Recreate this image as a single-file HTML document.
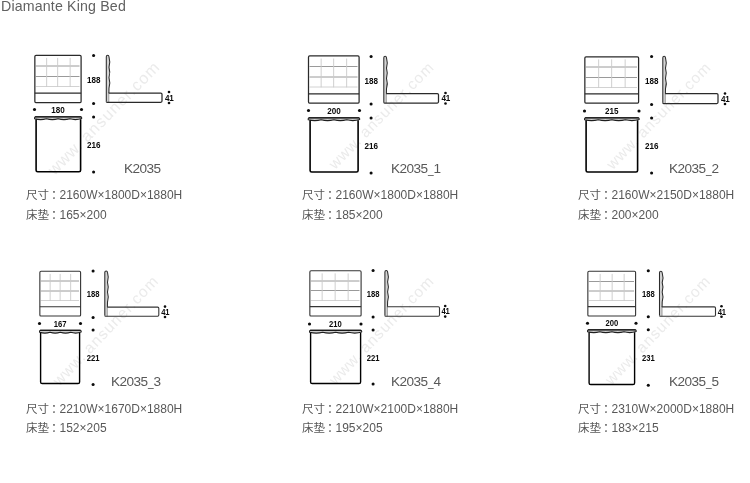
<!DOCTYPE html>
<html lang="zh-CN">
<head>
<meta charset="utf-8">
<title>Diamante King Bed</title>
<style>
html,body{margin:0;padding:0;background:#fff;}
body{width:750px;height:483px;position:relative;overflow:hidden;font-family:"Liberation Sans", "Noto Sans CJK SC", sans-serif;color:#666;}
.t{position:absolute;white-space:nowrap;line-height:1;margin:0;will-change:transform;}
.title{left:0.6px;top:-1.0px;font-size:14.2px;letter-spacing:0.16px;color:#626262;}
.lab{font-size:13.6px;letter-spacing:-0.55px;color:#585858;}
.lab .u{display:inline-block;width:5.6px;transform:scaleX(0.74);transform-origin:0 50%;letter-spacing:0;margin-left:0.3px;}
.spec{font-size:12px;color:#585858;}
.spec .cj{font-size:11.5px;letter-spacing:0.1px;}
.spec .c{display:inline-block;width:8.5px;padding-left:1.8px;}
svg{position:absolute;left:0;top:0;will-change:transform;}
svg text{font-family:"Liberation Sans", "Noto Sans CJK SC", sans-serif;}
svg .n{font-weight:bold;fill:#0a0a0a;}
svg .wm{font-weight:normal;fill:#ebebeb;}
</style>
</head>
<body>

<svg width="750" height="483" viewBox="0 0 750 483">
<text transform="translate(54.50 176.12) rotate(-45.44) scale(1.0157)" x="0" y="0" font-size="16" class="wm" letter-spacing="0.7">www.<tspan dx="4.9" letter-spacing="1.1">ansuner.com</tspan></text>
<text transform="translate(335.02 169.89) rotate(-45.51) scale(0.9546)" x="0" y="0" font-size="16" class="wm" letter-spacing="0.7">www.<tspan dx="4.9" letter-spacing="1.1">ansuner.com</tspan></text>
<text transform="translate(612.81 170.17) rotate(-45.84) scale(0.9524)" x="0" y="0" font-size="16" class="wm" letter-spacing="0.7">www.<tspan dx="4.9" letter-spacing="1.1">ansuner.com</tspan></text>
<text transform="translate(59.15 386.80) rotate(-46.28) scale(0.9726)" x="0" y="0" font-size="16" class="wm" letter-spacing="0.7">www.<tspan dx="4.9" letter-spacing="1.1">ansuner.com</tspan></text>
<text transform="translate(335.45 385.84) rotate(-46.29) scale(0.9634)" x="0" y="0" font-size="16" class="wm" letter-spacing="0.7">www.<tspan dx="4.9" letter-spacing="1.1">ansuner.com</tspan></text>
<text transform="translate(611.59 385.86) rotate(-46.15) scale(0.9656)" x="0" y="0" font-size="16" class="wm" letter-spacing="0.7">www.<tspan dx="4.9" letter-spacing="1.1">ansuner.com</tspan></text>
<g><line x1="35.85" y1="66" x2="79.50" y2="66" stroke="#8e8e8e" stroke-width="0.9"/>
<line x1="35.85" y1="76.5" x2="79.50" y2="76.5" stroke="#8e8e8e" stroke-width="0.9"/>
<line x1="35.85" y1="86.5" x2="79.50" y2="86.5" stroke="#cdcdcd" stroke-width="0.9"/>
<line x1="46.65" y1="57.90" x2="46.65" y2="86.8" stroke="#cacaca" stroke-width="0.9"/>
<line x1="57.65" y1="57.90" x2="57.65" y2="86.8" stroke="#cacaca" stroke-width="0.9"/>
<line x1="70.15" y1="57.90" x2="70.15" y2="86.8" stroke="#cacaca" stroke-width="0.9"/>
<path d="M34.85 101.50 L34.85 56.50 Q34.85 55.30 36.05 55.30 L79.90 55.30 Q81.10 55.30 81.10 56.50 L81.10 101.50 Q81.10 102.50 80.10 102.50 L35.85 102.50 Q34.85 102.50 34.85 101.50 Z" fill="none" stroke="#2a2a2a" stroke-width="1.25"/>
<line x1="34.85" y1="93.10" x2="81.10" y2="93.10" stroke="#2a2a2a" stroke-width="1.25"/>
<circle cx="93.60" cy="55.5" r="1.55" fill="#0c0c0c"/>
<circle cx="93.60" cy="103.5" r="1.55" fill="#0c0c0c"/>
<circle cx="93.60" cy="117" r="1.55" fill="#0c0c0c"/>
<circle cx="93.60" cy="172" r="1.55" fill="#0c0c0c"/>
<circle cx="34.5" cy="109.5" r="1.55" fill="#0c0c0c"/>
<circle cx="81.5" cy="109.5" r="1.55" fill="#0c0c0c"/>
<circle cx="169" cy="92" r="1.3" fill="#0c0c0c"/>
<circle cx="169" cy="103" r="1.3" fill="#0c0c0c"/>
<text transform="translate(93.70 82.72) scale(0.9 1)" x="0" y="0" font-size="9.0" text-anchor="middle" class="n">188</text>
<text transform="translate(58.00 112.82) scale(0.9 1)" x="0" y="0" font-size="9.0" text-anchor="middle" class="n">180</text>
<text transform="translate(93.70 148.02) scale(0.9 1)" x="0" y="0" font-size="9.0" text-anchor="middle" class="n">216</text>
<text transform="translate(169.20 100.72) scale(0.9 1)" x="0" y="0" font-size="9.0" text-anchor="middle" class="n" letter-spacing="-0.45">41</text>
<path d="M34.55 118.80 L34.55 117.70 Q34.55 116.70 35.55 116.70 L80.70 116.70 Q81.70 116.70 81.70 117.70 L81.70 118.60 Q75.66 120.50 69.81 118.80 Q63.97 120.50 58.12 118.80 Q52.28 120.50 46.44 118.80 Q40.59 120.50 34.75 118.80 Z" fill="#cfcfcf" stroke="#1e1e1e" stroke-width="1.05" stroke-linejoin="round"/>
<line x1="35.05" y1="116.80" x2="81.20" y2="116.80" stroke="#1a1a1a" stroke-width="1.2"/>
<path d="M36.10 119.20 L36.10 170.20 Q36.10 171.80 37.70 171.80 L79.00 171.80 Q80.60 171.80 80.60 170.20 L80.60 119.20" fill="none" stroke="#000" stroke-width="1.6"/>
<path d="M106.30 101.50 L106.30 56.70 Q106.30 55.30 107.70 55.30 Q108.80 55.30 109.00 56.80 Q110.60 62.02 109.00 67.23 Q110.60 72.45 109.00 77.67 Q110.60 82.88 109.00 88.10 L108.90 93.10 L108.90 102.30 L107.10 102.30 Q106.30 102.30 106.30 101.50 Z" fill="#d4d4d4" stroke="none"/>
<line x1="108.80" y1="93.10" x2="108.80" y2="102.30" stroke="#8c8c8c" stroke-width="0.8"/>
<path d="M106.30 101.50 L106.30 56.70 Q106.30 55.30 107.70 55.30 Q108.80 55.30 109.00 56.80 Q110.60 62.02 109.00 67.23 Q110.60 72.45 109.00 77.67 Q110.60 82.88 109.00 88.10 L108.90 93.10 " fill="none" stroke="#2c2c2c" stroke-width="1.05" stroke-linejoin="round"/>
<path d="M108.60 93.10 L160.80 93.10 Q162.00 93.10 162.00 94.30 L162.00 101.10 Q162.00 102.30 160.80 102.30 L107.10 102.30 Q106.30 102.30 106.30 101.50" fill="none" stroke="#2a2a2a" stroke-width="1.25"/></g>
<g><line x1="309.50" y1="66.5" x2="357.50" y2="66.5" stroke="#8e8e8e" stroke-width="0.9"/>
<line x1="309.50" y1="77" x2="357.50" y2="77" stroke="#8e8e8e" stroke-width="0.9"/>
<line x1="309.50" y1="87" x2="357.50" y2="87" stroke="#cdcdcd" stroke-width="0.9"/>
<line x1="321.15" y1="58.55" x2="321.15" y2="87.3" stroke="#cacaca" stroke-width="0.9"/>
<line x1="333.65" y1="58.55" x2="333.65" y2="87.3" stroke="#cacaca" stroke-width="0.9"/>
<line x1="346.65" y1="58.55" x2="346.65" y2="87.3" stroke="#cacaca" stroke-width="0.9"/>
<path d="M308.50 102.00 L308.50 57.15 Q308.50 55.95 309.70 55.95 L357.90 55.95 Q359.10 55.95 359.10 57.15 L359.10 102.00 Q359.10 103.00 358.10 103.00 L309.50 103.00 Q308.50 103.00 308.50 102.00 Z" fill="none" stroke="#2a2a2a" stroke-width="1.25"/>
<line x1="308.50" y1="93.80" x2="359.10" y2="93.80" stroke="#2a2a2a" stroke-width="1.25"/>
<circle cx="371.10" cy="56.5" r="1.55" fill="#0c0c0c"/>
<circle cx="371.10" cy="104" r="1.55" fill="#0c0c0c"/>
<circle cx="371.10" cy="118" r="1.55" fill="#0c0c0c"/>
<circle cx="371.10" cy="173" r="1.55" fill="#0c0c0c"/>
<circle cx="308.5" cy="110.5" r="1.55" fill="#0c0c0c"/>
<circle cx="359.5" cy="110.5" r="1.55" fill="#0c0c0c"/>
<circle cx="445.5" cy="93" r="1.3" fill="#0c0c0c"/>
<circle cx="445.5" cy="103.5" r="1.3" fill="#0c0c0c"/>
<text transform="translate(371.20 83.52) scale(0.9 1)" x="0" y="0" font-size="9.0" text-anchor="middle" class="n">188</text>
<text transform="translate(334.00 113.82) scale(0.9 1)" x="0" y="0" font-size="9.0" text-anchor="middle" class="n">200</text>
<text transform="translate(371.20 148.72) scale(0.9 1)" x="0" y="0" font-size="9.0" text-anchor="middle" class="n">216</text>
<text transform="translate(445.70 101.47) scale(0.9 1)" x="0" y="0" font-size="9.0" text-anchor="middle" class="n" letter-spacing="-0.45">41</text>
<path d="M308.20 119.80 L308.20 118.70 Q308.20 117.70 309.20 117.70 L358.70 117.70 Q359.70 117.70 359.70 118.70 L359.70 119.60 Q353.11 121.50 346.73 119.80 Q340.34 121.50 333.95 119.80 Q327.56 121.50 321.17 119.80 Q314.79 121.50 308.40 119.80 Z" fill="#cfcfcf" stroke="#1e1e1e" stroke-width="1.05" stroke-linejoin="round"/>
<line x1="308.70" y1="117.80" x2="359.20" y2="117.80" stroke="#1a1a1a" stroke-width="1.2"/>
<path d="M310.10 120.20 L310.10 170.40 Q310.10 172.00 311.70 172.00 L356.50 172.00 Q358.10 172.00 358.10 170.40 L358.10 120.20" fill="none" stroke="#000" stroke-width="1.6"/>
<path d="M383.80 102.20 L383.80 57.70 Q383.80 56.30 385.20 56.30 Q386.30 56.30 386.50 57.80 Q388.10 62.93 386.50 68.07 Q388.10 73.20 386.50 78.33 Q388.10 83.47 386.50 88.60 L386.40 93.60 L386.40 103.00 L384.60 103.00 Q383.80 103.00 383.80 102.20 Z" fill="#d4d4d4" stroke="none"/>
<line x1="386.30" y1="93.60" x2="386.30" y2="103.00" stroke="#8c8c8c" stroke-width="0.8"/>
<path d="M383.80 102.20 L383.80 57.70 Q383.80 56.30 385.20 56.30 Q386.30 56.30 386.50 57.80 Q388.10 62.93 386.50 68.07 Q388.10 73.20 386.50 78.33 Q388.10 83.47 386.50 88.60 L386.40 93.60 " fill="none" stroke="#2c2c2c" stroke-width="1.05" stroke-linejoin="round"/>
<path d="M386.10 93.60 L437.30 93.60 Q438.50 93.60 438.50 94.80 L438.50 101.80 Q438.50 103.00 437.30 103.00 L384.60 103.00 Q383.80 103.00 383.80 102.20" fill="none" stroke="#2a2a2a" stroke-width="1.25"/></g>
<g><line x1="585.85" y1="67" x2="637.00" y2="67" stroke="#8e8e8e" stroke-width="0.9"/>
<line x1="585.85" y1="77.5" x2="637.00" y2="77.5" stroke="#8e8e8e" stroke-width="0.9"/>
<line x1="585.85" y1="87.5" x2="637.00" y2="87.5" stroke="#cdcdcd" stroke-width="0.9"/>
<line x1="598.65" y1="59.40" x2="598.65" y2="87.8" stroke="#cacaca" stroke-width="0.9"/>
<line x1="611.65" y1="59.40" x2="611.65" y2="87.8" stroke="#cacaca" stroke-width="0.9"/>
<line x1="625.15" y1="59.40" x2="625.15" y2="87.8" stroke="#cacaca" stroke-width="0.9"/>
<path d="M584.85 102.00 L584.85 58.00 Q584.85 56.80 586.05 56.80 L637.40 56.80 Q638.60 56.80 638.60 58.00 L638.60 102.00 Q638.60 103.00 637.60 103.00 L585.85 103.00 Q584.85 103.00 584.85 102.00 Z" fill="none" stroke="#2a2a2a" stroke-width="1.25"/>
<line x1="584.85" y1="93.90" x2="638.60" y2="93.90" stroke="#2a2a2a" stroke-width="1.25"/>
<circle cx="651.60" cy="56.5" r="1.55" fill="#0c0c0c"/>
<circle cx="651.60" cy="104.5" r="1.55" fill="#0c0c0c"/>
<circle cx="651.60" cy="118" r="1.55" fill="#0c0c0c"/>
<circle cx="651.60" cy="173" r="1.55" fill="#0c0c0c"/>
<circle cx="584.5" cy="111" r="1.55" fill="#0c0c0c"/>
<circle cx="639" cy="111" r="1.55" fill="#0c0c0c"/>
<circle cx="725" cy="93.5" r="1.3" fill="#0c0c0c"/>
<circle cx="725" cy="104" r="1.3" fill="#0c0c0c"/>
<text transform="translate(651.70 83.92) scale(0.9 1)" x="0" y="0" font-size="9.0" text-anchor="middle" class="n">188</text>
<text transform="translate(611.75 114.32) scale(0.9 1)" x="0" y="0" font-size="9.0" text-anchor="middle" class="n">215</text>
<text transform="translate(651.70 148.72) scale(0.9 1)" x="0" y="0" font-size="9.0" text-anchor="middle" class="n">216</text>
<text transform="translate(725.20 101.97) scale(0.9 1)" x="0" y="0" font-size="9.0" text-anchor="middle" class="n" letter-spacing="-0.45">41</text>
<path d="M584.55 119.80 L584.55 118.70 Q584.55 117.70 585.55 117.70 L638.20 117.70 Q639.20 117.70 639.20 118.70 L639.20 119.60 Q632.22 121.50 625.44 119.80 Q618.66 121.50 611.88 119.80 Q605.09 121.50 598.31 119.80 Q591.53 121.50 584.75 119.80 Z" fill="#cfcfcf" stroke="#1e1e1e" stroke-width="1.05" stroke-linejoin="round"/>
<line x1="585.05" y1="117.80" x2="638.70" y2="117.80" stroke="#1a1a1a" stroke-width="1.2"/>
<path d="M586.10 120.20 L586.10 170.40 Q586.10 172.00 587.70 172.00 L636.00 172.00 Q637.60 172.00 637.60 170.40 L637.60 120.20" fill="none" stroke="#000" stroke-width="1.6"/>
<path d="M662.80 102.70 L662.80 57.70 Q662.80 56.30 664.20 56.30 Q665.30 56.30 665.50 57.80 Q667.10 62.93 665.50 68.07 Q667.10 73.20 665.50 78.33 Q667.10 83.47 665.50 88.60 L665.40 93.60 L665.40 103.50 L663.60 103.50 Q662.80 103.50 662.80 102.70 Z" fill="#d4d4d4" stroke="none"/>
<line x1="665.30" y1="93.60" x2="665.30" y2="103.50" stroke="#8c8c8c" stroke-width="0.8"/>
<path d="M662.80 102.70 L662.80 57.70 Q662.80 56.30 664.20 56.30 Q665.30 56.30 665.50 57.80 Q667.10 62.93 665.50 68.07 Q667.10 73.20 665.50 78.33 Q667.10 83.47 665.50 88.60 L665.40 93.60 " fill="none" stroke="#2c2c2c" stroke-width="1.05" stroke-linejoin="round"/>
<path d="M665.10 93.60 L716.80 93.60 Q718.00 93.60 718.00 94.80 L718.00 102.30 Q718.00 103.50 716.80 103.50 L663.60 103.50 Q662.80 103.50 662.80 102.70" fill="none" stroke="#2a2a2a" stroke-width="1.25"/></g>
<g><line x1="40.85" y1="281" x2="79.00" y2="281" stroke="#8e8e8e" stroke-width="0.9"/>
<line x1="40.85" y1="291" x2="79.00" y2="291" stroke="#8e8e8e" stroke-width="0.9"/>
<line x1="40.85" y1="300.5" x2="79.00" y2="300.5" stroke="#cdcdcd" stroke-width="0.9"/>
<line x1="50.15" y1="273.90" x2="50.15" y2="300.8" stroke="#cacaca" stroke-width="0.9"/>
<line x1="60.15" y1="273.90" x2="60.15" y2="300.8" stroke="#cacaca" stroke-width="0.9"/>
<line x1="70.65" y1="273.90" x2="70.65" y2="300.8" stroke="#cacaca" stroke-width="0.9"/>
<path d="M39.85 315.00 L39.85 272.50 Q39.85 271.30 41.05 271.30 L79.40 271.30 Q80.60 271.30 80.60 272.50 L80.60 315.00 Q80.60 316.00 79.60 316.00 L40.85 316.00 Q39.85 316.00 39.85 315.00 Z" fill="none" stroke="#343434" stroke-width="1.1"/>
<line x1="39.85" y1="306.80" x2="80.60" y2="306.80" stroke="#343434" stroke-width="1.1"/>
<circle cx="93.10" cy="271" r="1.55" fill="#0c0c0c"/>
<circle cx="93.10" cy="317.5" r="1.55" fill="#0c0c0c"/>
<circle cx="93.10" cy="330" r="1.55" fill="#0c0c0c"/>
<circle cx="93.10" cy="384.5" r="1.55" fill="#0c0c0c"/>
<circle cx="39.5" cy="323.5" r="1.55" fill="#0c0c0c"/>
<circle cx="80.5" cy="323.5" r="1.55" fill="#0c0c0c"/>
<circle cx="165" cy="306.6" r="1.3" fill="#0c0c0c"/>
<circle cx="165" cy="317" r="1.3" fill="#0c0c0c"/>
<text transform="translate(93.20 297.24) scale(0.9 1)" x="0" y="0" font-size="8.5" text-anchor="middle" class="n">188</text>
<text transform="translate(60.00 326.64) scale(0.9 1)" x="0" y="0" font-size="8.5" text-anchor="middle" class="n">167</text>
<text transform="translate(93.20 361.04) scale(0.9 1)" x="0" y="0" font-size="8.5" text-anchor="middle" class="n">221</text>
<text transform="translate(165.20 314.84) scale(0.9 1)" x="0" y="0" font-size="8.5" text-anchor="middle" class="n" letter-spacing="-0.45">41</text>
<path d="M39.55 332.30 L39.55 331.20 Q39.55 330.20 40.55 330.20 L80.20 330.20 Q81.20 330.20 81.20 331.20 L81.20 332.10 Q75.84 334.00 70.69 332.30 Q65.53 334.00 60.37 332.30 Q55.22 334.00 50.06 332.30 Q44.91 334.00 39.75 332.30 Z" fill="#cfcfcf" stroke="#1e1e1e" stroke-width="1.05" stroke-linejoin="round"/>
<line x1="40.05" y1="330.30" x2="80.70" y2="330.30" stroke="#1a1a1a" stroke-width="1.2"/>
<path d="M40.60 332.70 L40.60 381.90 Q40.60 383.50 42.20 383.50 L78.00 383.50 Q79.60 383.50 79.60 381.90 L79.60 332.70" fill="none" stroke="#000" stroke-width="1.4"/>
<path d="M104.80 315.50 L104.80 272.30 Q104.80 270.90 106.20 270.90 Q107.30 270.90 107.50 272.40 Q109.10 277.35 107.50 282.30 Q109.10 287.25 107.50 292.20 Q109.10 297.15 107.50 302.10 L107.40 307.10 L107.40 316.30 L105.60 316.30 Q104.80 316.30 104.80 315.50 Z" fill="#d4d4d4" stroke="none"/>
<line x1="107.30" y1="307.10" x2="107.30" y2="316.30" stroke="#8c8c8c" stroke-width="0.8"/>
<path d="M104.80 315.50 L104.80 272.30 Q104.80 270.90 106.20 270.90 Q107.30 270.90 107.50 272.40 Q109.10 277.35 107.50 282.30 Q109.10 287.25 107.50 292.20 Q109.10 297.15 107.50 302.10 L107.40 307.10 " fill="none" stroke="#2c2c2c" stroke-width="1.05" stroke-linejoin="round"/>
<path d="M107.10 307.10 L157.60 307.10 Q158.80 307.10 158.80 308.30 L158.80 315.10 Q158.80 316.30 157.60 316.30 L105.60 316.30 Q104.80 316.30 104.80 315.50" fill="none" stroke="#343434" stroke-width="1.1"/></g>
<g><line x1="310.85" y1="281" x2="359.50" y2="281" stroke="#8e8e8e" stroke-width="0.9"/>
<line x1="310.85" y1="290.5" x2="359.50" y2="290.5" stroke="#8e8e8e" stroke-width="0.9"/>
<line x1="310.85" y1="300.5" x2="359.50" y2="300.5" stroke="#cdcdcd" stroke-width="0.9"/>
<line x1="322.15" y1="273.40" x2="322.15" y2="300.8" stroke="#cacaca" stroke-width="0.9"/>
<line x1="335.15" y1="273.40" x2="335.15" y2="300.8" stroke="#cacaca" stroke-width="0.9"/>
<line x1="348.15" y1="273.40" x2="348.15" y2="300.8" stroke="#cacaca" stroke-width="0.9"/>
<path d="M309.85 315.00 L309.85 272.00 Q309.85 270.80 311.05 270.80 L359.90 270.80 Q361.10 270.80 361.10 272.00 L361.10 315.00 Q361.10 316.00 360.10 316.00 L310.85 316.00 Q309.85 316.00 309.85 315.00 Z" fill="none" stroke="#343434" stroke-width="1.1"/>
<line x1="309.85" y1="306.60" x2="361.10" y2="306.60" stroke="#343434" stroke-width="1.1"/>
<circle cx="373.10" cy="270.5" r="1.55" fill="#0c0c0c"/>
<circle cx="373.10" cy="317" r="1.55" fill="#0c0c0c"/>
<circle cx="373.10" cy="330" r="1.55" fill="#0c0c0c"/>
<circle cx="373.10" cy="384" r="1.55" fill="#0c0c0c"/>
<circle cx="309.5" cy="324" r="1.55" fill="#0c0c0c"/>
<circle cx="361" cy="324" r="1.55" fill="#0c0c0c"/>
<circle cx="445.2" cy="306" r="1.3" fill="#0c0c0c"/>
<circle cx="445.2" cy="316.6" r="1.3" fill="#0c0c0c"/>
<text transform="translate(373.20 297.24) scale(0.9 1)" x="0" y="0" font-size="8.5" text-anchor="middle" class="n">188</text>
<text transform="translate(335.25 327.14) scale(0.9 1)" x="0" y="0" font-size="8.5" text-anchor="middle" class="n">210</text>
<text transform="translate(373.20 361.04) scale(0.9 1)" x="0" y="0" font-size="8.5" text-anchor="middle" class="n">221</text>
<text transform="translate(445.40 314.34) scale(0.9 1)" x="0" y="0" font-size="8.5" text-anchor="middle" class="n" letter-spacing="-0.45">41</text>
<path d="M309.55 332.30 L309.55 331.20 Q309.55 330.20 310.55 330.20 L360.70 330.20 Q361.70 330.20 361.70 331.20 L361.70 332.10 Q355.03 334.00 348.56 332.30 Q342.09 334.00 335.63 332.30 Q329.16 334.00 322.69 332.30 Q316.22 334.00 309.75 332.30 Z" fill="#cfcfcf" stroke="#1e1e1e" stroke-width="1.05" stroke-linejoin="round"/>
<line x1="310.05" y1="330.30" x2="361.20" y2="330.30" stroke="#1a1a1a" stroke-width="1.2"/>
<path d="M310.60 332.70 L310.60 381.90 Q310.60 383.50 312.20 383.50 L359.00 383.50 Q360.60 383.50 360.60 381.90 L360.60 332.70" fill="none" stroke="#000" stroke-width="1.4"/>
<path d="M384.90 315.50 L384.90 271.90 Q384.90 270.50 386.30 270.50 Q387.40 270.50 387.60 272.00 Q389.20 276.95 387.60 281.90 Q389.20 286.85 387.60 291.80 Q389.20 296.75 387.60 301.70 L387.50 306.70 L387.50 316.30 L385.70 316.30 Q384.90 316.30 384.90 315.50 Z" fill="#d4d4d4" stroke="none"/>
<line x1="387.40" y1="306.70" x2="387.40" y2="316.30" stroke="#8c8c8c" stroke-width="0.8"/>
<path d="M384.90 315.50 L384.90 271.90 Q384.90 270.50 386.30 270.50 Q387.40 270.50 387.60 272.00 Q389.20 276.95 387.60 281.90 Q389.20 286.85 387.60 291.80 Q389.20 296.75 387.60 301.70 L387.50 306.70 " fill="none" stroke="#2c2c2c" stroke-width="1.05" stroke-linejoin="round"/>
<path d="M387.20 306.70 L438.30 306.70 Q439.50 306.70 439.50 307.90 L439.50 315.10 Q439.50 316.30 438.30 316.30 L385.70 316.30 Q384.90 316.30 384.90 315.50" fill="none" stroke="#343434" stroke-width="1.1"/></g>
<g><line x1="588.85" y1="281.5" x2="634.00" y2="281.5" stroke="#8e8e8e" stroke-width="0.9"/>
<line x1="588.85" y1="291" x2="634.00" y2="291" stroke="#8e8e8e" stroke-width="0.9"/>
<line x1="588.85" y1="300.5" x2="634.00" y2="300.5" stroke="#cdcdcd" stroke-width="0.9"/>
<line x1="600.15" y1="273.90" x2="600.15" y2="300.8" stroke="#cacaca" stroke-width="0.9"/>
<line x1="612.15" y1="273.90" x2="612.15" y2="300.8" stroke="#cacaca" stroke-width="0.9"/>
<line x1="624.15" y1="273.90" x2="624.15" y2="300.8" stroke="#cacaca" stroke-width="0.9"/>
<path d="M587.85 315.00 L587.85 272.50 Q587.85 271.30 589.05 271.30 L634.40 271.30 Q635.60 271.30 635.60 272.50 L635.60 315.00 Q635.60 316.00 634.60 316.00 L588.85 316.00 Q587.85 316.00 587.85 315.00 Z" fill="none" stroke="#343434" stroke-width="1.1"/>
<line x1="587.85" y1="306.60" x2="635.60" y2="306.60" stroke="#343434" stroke-width="1.1"/>
<circle cx="648.30" cy="270.7" r="1.55" fill="#0c0c0c"/>
<circle cx="648.30" cy="316.7" r="1.55" fill="#0c0c0c"/>
<circle cx="648.30" cy="329.7" r="1.55" fill="#0c0c0c"/>
<circle cx="648.30" cy="385.2" r="1.55" fill="#0c0c0c"/>
<circle cx="587.5" cy="323.2" r="1.55" fill="#0c0c0c"/>
<circle cx="636" cy="323.2" r="1.55" fill="#0c0c0c"/>
<circle cx="721.5" cy="306.3" r="1.3" fill="#0c0c0c"/>
<circle cx="721.5" cy="316.8" r="1.3" fill="#0c0c0c"/>
<text transform="translate(648.40 297.44) scale(0.9 1)" x="0" y="0" font-size="8.5" text-anchor="middle" class="n">188</text>
<text transform="translate(611.75 326.34) scale(0.9 1)" x="0" y="0" font-size="8.5" text-anchor="middle" class="n">200</text>
<text transform="translate(648.40 361.04) scale(0.9 1)" x="0" y="0" font-size="8.5" text-anchor="middle" class="n">231</text>
<text transform="translate(721.70 314.59) scale(0.9 1)" x="0" y="0" font-size="8.5" text-anchor="middle" class="n" letter-spacing="-0.45">41</text>
<path d="M587.55 331.80 L587.55 330.70 Q587.55 329.70 588.55 329.70 L635.20 329.70 Q636.20 329.70 636.20 330.70 L636.20 331.60 Q629.97 333.50 623.94 331.80 Q617.91 333.50 611.88 331.80 Q605.84 333.50 599.81 331.80 Q593.78 333.50 587.75 331.80 Z" fill="#cfcfcf" stroke="#1e1e1e" stroke-width="1.05" stroke-linejoin="round"/>
<line x1="588.05" y1="329.80" x2="635.70" y2="329.80" stroke="#1a1a1a" stroke-width="1.2"/>
<path d="M589.10 332.20 L589.10 382.90 Q589.10 384.50 590.70 384.50 L633.00 384.50 Q634.60 384.50 634.60 382.90 L634.60 332.20" fill="none" stroke="#000" stroke-width="1.4"/>
<path d="M659.50 315.50 L659.50 272.70 Q659.50 271.30 660.90 271.30 Q662.00 271.30 662.20 272.80 Q663.80 277.65 662.20 282.50 Q663.80 287.35 662.20 292.20 Q663.80 297.05 662.20 301.90 L662.10 306.90 L662.10 316.30 L660.30 316.30 Q659.50 316.30 659.50 315.50 Z" fill="#d4d4d4" stroke="none"/>
<line x1="662.00" y1="306.90" x2="662.00" y2="316.30" stroke="#8c8c8c" stroke-width="0.8"/>
<path d="M659.50 315.50 L659.50 272.70 Q659.50 271.30 660.90 271.30 Q662.00 271.30 662.20 272.80 Q663.80 277.65 662.20 282.50 Q663.80 287.35 662.20 292.20 Q663.80 297.05 662.20 301.90 L662.10 306.90 " fill="none" stroke="#2c2c2c" stroke-width="1.05" stroke-linejoin="round"/>
<path d="M661.80 306.90 L714.30 306.90 Q715.50 306.90 715.50 308.10 L715.50 315.10 Q715.50 316.30 714.30 316.30 L660.30 316.30 Q659.50 316.30 659.50 315.50" fill="none" stroke="#343434" stroke-width="1.1"/></g>
</svg>
<h1 class="t title" style="font-weight:normal">Diamante King Bed</h1>
<div class="t lab" style="left:124.0px;top:162.30px">K2035</div>
<div class="t lab" style="left:391.3px;top:162.30px">K2035<span class="u">_</span>1</div>
<div class="t lab" style="left:668.6px;top:162.30px">K2035<span class="u">_</span>2</div>
<div class="t lab" style="left:111.4px;top:374.90px">K2035<span class="u">_</span>3</div>
<div class="t lab" style="left:390.5px;top:374.90px">K2035<span class="u">_</span>4</div>
<div class="t lab" style="left:669.3px;top:374.90px">K2035<span class="u">_</span>5</div>
<div class="t spec" style="left:26.0px;top:189.10px"><span class="cj">尺寸</span><span class="c">：</span>2160W×1800D×1880H</div>
<div class="t spec" style="left:26.0px;top:208.60px"><span class="cj">床垫</span><span class="c">：</span>165×200</div>
<div class="t spec" style="left:301.7px;top:189.10px"><span class="cj">尺寸</span><span class="c">：</span>2160W×1800D×1880H</div>
<div class="t spec" style="left:301.7px;top:208.60px"><span class="cj">床垫</span><span class="c">：</span>185×200</div>
<div class="t spec" style="left:577.6px;top:189.10px"><span class="cj">尺寸</span><span class="c">：</span>2160W×2150D×1880H</div>
<div class="t spec" style="left:577.6px;top:208.60px"><span class="cj">床垫</span><span class="c">：</span>200×200</div>
<div class="t spec" style="left:26.2px;top:402.90px"><span class="cj">尺寸</span><span class="c">：</span>2210W×1670D×1880H</div>
<div class="t spec" style="left:26.2px;top:422.40px"><span class="cj">床垫</span><span class="c">：</span>152×205</div>
<div class="t spec" style="left:301.9px;top:402.90px"><span class="cj">尺寸</span><span class="c">：</span>2210W×2100D×1880H</div>
<div class="t spec" style="left:301.9px;top:422.40px"><span class="cj">床垫</span><span class="c">：</span>195×205</div>
<div class="t spec" style="left:577.9px;top:402.90px"><span class="cj">尺寸</span><span class="c">：</span>2310W×2000D×1880H</div>
<div class="t spec" style="left:577.9px;top:422.40px"><span class="cj">床垫</span><span class="c">：</span>183×215</div>
</body>
</html>
